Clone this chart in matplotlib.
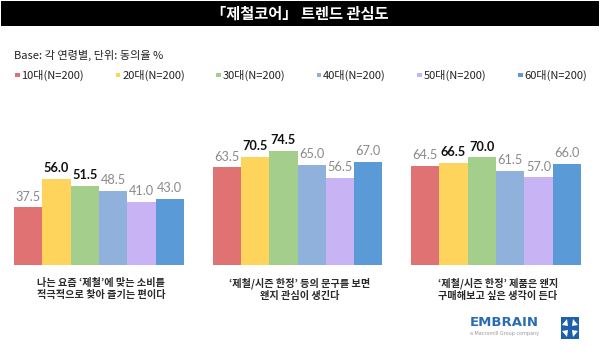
import matplotlib
matplotlib.use("Agg")
import matplotlib.pyplot as plt
import numpy as np
from matplotlib.patches import Rectangle, Polygon

plt.rcParams['font.family'] = ['Noto Sans CJK KR', 'DejaVu Sans']

title = "「제철코어」 트렌드 관심도"
base_note = "Base: 각 연령별, 단위: 동의율 %"
series = ["10대(N=200)", "20대(N=200)", "30대(N=200)", "40대(N=200)", "50대(N=200)", "60대(N=200)"]
questions = [
    "나는 요즘 ‘제철’에 맞는 소비를\n적극적으로 찾아 즐기는 편이다",
    "‘제철/시즌 한정’ 등의 문구를 보면\n왠지 관심이 생긴다",
    "‘제철/시즌 한정’ 제품은 왠지\n구매해보고 싶은 생각이 든다",
]
values = [
    [37.5, 56.0, 51.5, 48.5, 41.0, 43.0],
    [63.5, 70.5, 74.5, 65.0, 56.5, 67.0],
    [64.5, 66.5, 70.0, 61.5, 57.0, 66.0],
]
colors = ["#E07274", "#FFD45C", "#A4CE8C", "#8FB1DC", "#C8B3F5", "#5A9AD6"]

W, H = 600, 355
fig = plt.figure(figsize=(W / 100, H / 100), dpi=100)


def fx(px):
    return px / W


def fy(py):
    return 1 - py / H


# title bar
fig.patches.append(Rectangle((fx(1), fy(26)), fx(598), 25 / H, transform=fig.transFigure,
                             facecolor="black", edgecolor="none"))
fig.text(0.5, fy(13.5), title, color="white", fontsize=11, fontweight="bold",
         ha="center", va="center")
fig.text(fx(14), fy(55), base_note, fontsize=8, color="#222222", va="center")

# legend row
for i, (name, c) in enumerate(zip(series, colors)):
    x0 = 15 + i * 100.6
    fig.patches.append(Rectangle((fx(x0), fy(77)), fx(4.5), 4.5 / H,
                                 transform=fig.transFigure, facecolor=c, edgecolor="none"))
    fig.text(fx(x0 + 6.5), fy(75), name, fontsize=8, color="#222222", va="center")

# bars
spacing = 198.5
center0 = 99
baseline = 265
ppu = 1.536
ax = fig.add_axes([0, fy(baseline), 1, 100 * ppu / H])
ax.set_xlim(-center0 / spacing, (W - center0) / spacing)
ax.set_ylim(0, 100)
ax.axis("off")

bw = 28.3 / spacing
x = np.arange(len(questions))
for j, c in enumerate(colors):
    vals = [row[j] for row in values]
    pos = x + (j - 2.5) * bw
    ax.bar(pos, vals, width=bw, color=c, edgecolor="none")

for g, row in enumerate(values):
    top2 = sorted(row, reverse=True)[:2]
    for j, v in enumerate(row):
        pos = g + (j - 2.5) * bw
        bold = v in top2
        ax.annotate(f"{v:.1f}", (pos, v), xytext=(0, 3.5), textcoords="offset points",
                    ha="center", va="bottom", fontsize=9.2,
                    family=["Lato", "DejaVu Sans"],
                    fontweight="bold" if bold else "normal",
                    color="#111111" if bold else "#8A8A8A")

for g, q in enumerate(questions):
    fig.text(fx(center0 + g * spacing + 2), fy(289), q, fontsize=7.3, fontweight="bold",
             color="#2A2A2A", ha="center", va="center", linespacing=1.3)

# logo
fig.text(fx(504), fy(322), "EMBRAIN", fontsize=9.5, fontweight="bold", color="#2A6CB4",
         ha="center", va="center", family=["DejaVu Sans"])
fig.text(fx(504), fy(333), "a Macromill Group company", fontsize=3.5, color="#999999",
         ha="center", va="center", family=["DejaVu Sans"])
fig.patches.append(Rectangle((fx(561), fy(339)), fx(18), 22 / H, transform=fig.transFigure,
                             facecolor="#1E60AC", edgecolor="none"))
cx, cy = 570, 328
for dx, dy in [(-1, -1), (1, -1), (-1, 1), (1, 1)]:
    tri = [(fx(cx + dx * 2), fy(cy + dy * 2)), (fx(cx + dx * 8), fy(cy + dy * 3)),
           (fx(cx + dx * 3), fy(cy + dy * 9))]
    fig.patches.append(Polygon(tri, closed=True, transform=fig.transFigure,
                               facecolor="white", edgecolor="none"))

fig.savefig("out.png", dpi=100)
